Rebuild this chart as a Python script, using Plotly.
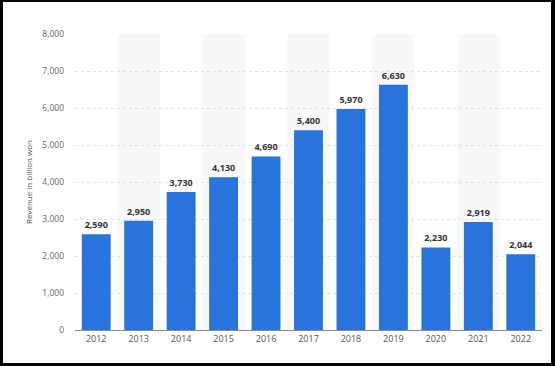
import plotly.graph_objects as go

years = ["2012", "2013", "2014", "2015", "2016", "2017", "2018", "2019", "2020", "2021", "2022"]
revenue = [2590, 2950, 3730, 4130, 4690, 5400, 5970, 6630, 2230, 2919, 2044]
labels = [f"{v:,}" for v in revenue]
y_ticks = [0, 1000, 2000, 3000, 4000, 5000, 6000, 7000, 8000]

fig = go.Figure()
fig.add_trace(go.Bar(
    x=years, y=revenue, text=labels, textposition="outside",
    textfont=dict(family="Open Sans", size=9, color="#333333"),
    texttemplate="<b>%{text}</b>",
    marker=dict(color="#2873dc", line=dict(width=0)),
    cliponaxis=False, hoverinfo="skip",
))

shapes = []
# alternating background bands
for i in range(len(years)):
    if i % 2 == 1:
        shapes.append(dict(type="rect", xref="x", yref="y", x0=i - 0.5, x1=i + 0.5,
                           y0=0, y1=y_ticks[-1], fillcolor="#f8f8f8", line=dict(width=0),
                           layer="below"))

W, H = 555, 366
L, R, T, B = 75, 13, 34, 36
pw, ph = W - L - R, H - T - B

def px(x):
    return (x - L) / pw

def py(y):
    return (H - B - y) / ph

def box(x0, y0, x1, y1):
    return dict(type="rect", xref="paper", yref="paper", x0=px(x0), x1=px(x1),
                y0=py(y1), y1=py(y0), fillcolor="black", line=dict(width=0), layer="above")

shapes += [box(0, 0, 3, H), box(0, 0, W, 2), box(551, 0, W, H), box(0, 363, W, H)]

fig.update_layout(
    width=W, height=H,
    margin=dict(l=L, r=R, t=T, b=B, pad=0),
    paper_bgcolor="white", plot_bgcolor="white",
    bargap=0.32, showlegend=False, shapes=shapes,
    font=dict(family="Open Sans", color="#666666"),
    xaxis=dict(type="category", showgrid=False, showline=True, linecolor="#8a8a8a",
               linewidth=1, ticks="", tickfont=dict(size=9, color="#555555"),
               fixedrange=True),
    yaxis=dict(range=[0, 8000], tickvals=y_ticks, tickformat=",", showgrid=True,
               gridcolor="#e2e2e2", griddash="dot", gridwidth=1, zeroline=False,
               showline=False, ticks="", ticklabelstandoff=10,
               tickfont=dict(size=8.5, color="#666666"),
               title=dict(text="Revenue in billion won", font=dict(size=8, color="#555555"),
                          standoff=8),
               fixedrange=True),
)

fig.write_html("out.html", config={"displayModeBar": False},
               post_script="document.body.style.margin='0';document.body.style.overflow='hidden';")
